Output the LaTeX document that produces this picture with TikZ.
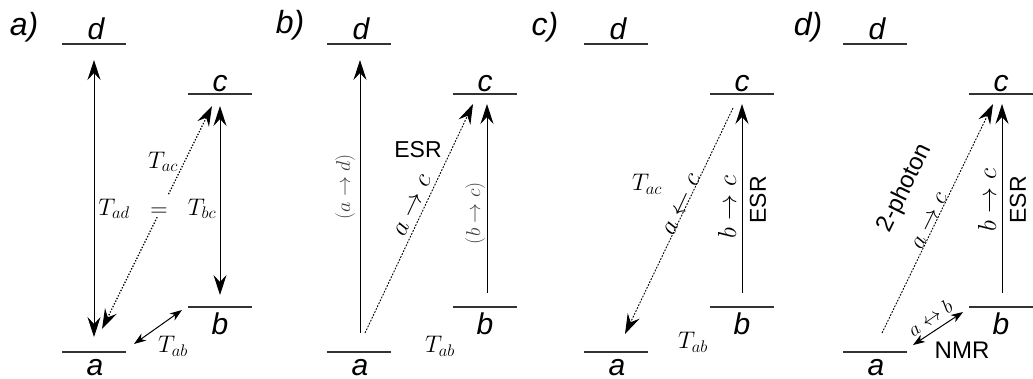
\RequirePackage{fix-cm}
\documentclass[tikz,border=0pt]{standalone}
\usepackage{fontspec}
\setsansfont{Liberation Sans}
\usetikzlibrary{arrows.meta}
\begin{document}
\begin{tikzpicture}[x=1pt,y=-1pt,
  lvl/.style={line width=1.3pt, draw=black!80},
  lvltext/.style={font=\sffamily\itshape\fontsize{30}{34}\selectfont, inner sep=0pt},
  paneltext/.style={font=\sffamily\itshape\fontsize{32}{36}\selectfont, inner sep=0pt},
  ml/.style={font=\fontsize{24}{28}\selectfont, inner sep=1pt},
  mla/.style={font=\fontsize{26}{30}\selectfont, inner sep=1pt},
  mls/.style={font=\fontsize{20}{24}\selectfont, inner sep=1pt},
  sl/.style={font=\sffamily\fontsize{23}{26}\selectfont, inner sep=1pt},
  solidarr/.style={line width=0.9pt},
  dotarr/.style={line width=1.3pt, dash pattern=on 1.3pt off 1.7pt},
  dasharr/.style={line width=0.9pt, dash pattern=on 1.8pt off 1.4pt},
  big/.style={-{Stealth[length=20pt,width=13pt,inset=7pt]}},
  bigboth/.style={{Stealth[length=20pt,width=13pt,inset=7pt]}-{Stealth[length=20pt,width=13pt,inset=7pt]}},
  smallboth/.style={{Stealth[length=12pt,width=8.5pt,inset=3.5pt]}-{Stealth[length=12pt,width=8.5pt,inset=3.5pt]}}
]
\useasboundingbox (0,0) rectangle (1033,378);

% ---------- levels (all panels) ----------
\foreach \o/\p in {0/a,265/b,522/c,781/d}{
  \draw[lvl] (62+\o,44) -- (126+\o,44);
  \draw[lvl] (188+\o,94) -- (252+\o,94);
  \draw[lvl] (188+\o,307) -- (252+\o,307);
  \draw[lvl] (62+\o,352) -- (126+\o,352);
  \node[lvltext] (\p-dl) at (96+\o,29) {d};
  \node[lvltext] (\p-cl) at (220+\o,84) {c};
  \node[lvltext] (\p-bl) at (220+\o,324) {b};
  \node[lvltext] (\p-al) at (95+\o,368) {a};
}
\node[paneltext] (pa) at (24,27) {a)};
\node[paneltext] (pb) at (290,25) {b)};
\node[paneltext] (pc) at (545,27) {c)};
\node[paneltext] (pd) at (808,27) {d)};

% ---------- panel a ----------
\coordinate (a-ad1) at (94,60);
\coordinate (a-ad2) at (94,337);
\coordinate (a-ac1) at (102,329);
\coordinate (a-ac2) at (212,106);
\coordinate (a-bc1) at (220,106);
\coordinate (a-bc2) at (220,295);
\coordinate (a-ab1) at (134,344);
\coordinate (a-ab2) at (182,310);
\draw[solidarr,bigboth] (a-ad1) -- (a-ad2);
\draw[solidarr,bigboth] (a-bc1) -- (a-bc2);
\draw[dotarr,bigboth] (a-ac1) -- (a-ac2);
\draw[line width=1pt,smallboth] (a-ab1) -- (a-ab2);
\node[ml, fill=white, text height=20pt, text depth=0pt, anchor=base] (a-eq) at (159,216) {$=$};
\node[ml, anchor=base] (a-tad) at (114,215) {$T_{ad}$};
\node[ml, anchor=base] (a-tbc) at (202,215) {$T_{bc}$};
\node[ml, anchor=base] (a-tac) at (163,168) {$T_{ac}$};
\node[ml] (a-tab) at (173,346) {$T_{ab}$};

% ---------- panel b ----------
\coordinate (b-ad1) at (360,333);
\coordinate (b-ad2) at (360,60);
\coordinate (b-ac1) at (365,333);
\coordinate (b-ac2) at (473,104);
\coordinate (b-bc1) at (487,293);
\coordinate (b-bc2) at (487,104);
\draw[solidarr,big] (b-ad1) -- (b-ad2);
\draw[dasharr,big] (b-ac1) -- (b-ac2);
\draw[solidarr,big] (b-bc1) -- (b-bc2);
\node[mls, rotate=90, text=black!75] (b-lad) at (345,187) {$(a\rightarrow d)$};
\node[mls, rotate=90, text=black!75] (b-lbc) at (475,213) {$(b\rightarrow c)$};
\node[mla, rotate=65] (b-lac) at (413,206) {$a\rightarrow c$};
\node[sl] (b-esr) at (418,150) {ESR};
\node[ml] (b-tab) at (440,346) {$T_{ab}$};

% ---------- panel c ----------
\coordinate (c-ca1) at (733,108);
\coordinate (c-ca2) at (625,334);
\coordinate (c-bc1) at (742,293);
\coordinate (c-bc2) at (742,104);
\draw[dasharr,big] (c-ca1) -- (c-ca2);
\draw[solidarr,big] (c-bc1) -- (c-bc2);
\node[mla, rotate=65] (c-lac) at (682,205) {$a\leftarrow c$};
\node[ml] (c-tac) at (647,184) {$T_{ac}$};
\node[mla, rotate=90] (c-lbc) at (727,207) {$b\rightarrow c$};
\node[sl, rotate=90] (c-esr) at (758,200) {ESR};
\node[ml] (c-tab) at (693,342) {$T_{ab}$};

% ---------- panel d ----------
\coordinate (d-ac1) at (882,333);
\coordinate (d-ac2) at (993,104);
\coordinate (d-bc1) at (1002,293);
\coordinate (d-bc2) at (1002,104);
\coordinate (d-ab1) at (913,345);
\coordinate (d-ab2) at (963,312);
\draw[dasharr,big] (d-ac1) -- (d-ac2);
\draw[solidarr,big] (d-bc1) -- (d-bc2);
\draw[line width=1pt,smallboth] (d-ab1) -- (d-ab2);
\node[sl, font=\sffamily\fontsize{24}{28}\selectfont, rotate=64] (d-2ph) at (905,188) {2-photon};
\node[ml, rotate=64] (d-lac) at (930,221) {$a\rightarrow c$};
\node[mla, rotate=90] (d-lbc) at (987,200) {$b\rightarrow c$};
\node[sl, rotate=90] (d-esr) at (1018,200) {ESR};
\node[mls, rotate=35] (d-lab) at (930,318) {$a\leftrightarrow b$};
\node[sl, font=\sffamily\fontsize{24}{28}\selectfont] (d-nmr) at (962,350) {NMR};
\end{tikzpicture}
\end{document}
